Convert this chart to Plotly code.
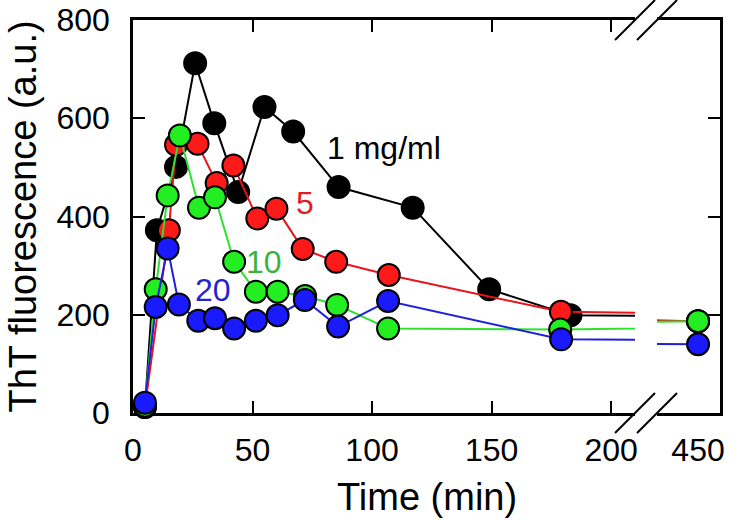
import numpy as np
import plotly.graph_objects as go

# ---- data ----
t_1 = [5, 10, 18, 26, 34, 44, 55, 67, 86, 117, 149, 183, 450]
y_1 = [12, 372, 501, 712, 590, 450, 623, 573, 460, 418, 252, 199, 187]

t_5 = [5, 15, 18, 27, 35, 42, 52, 60, 71, 85, 107, 179, 450]
y_5 = [12, 372, 546, 548, 468, 504, 396, 416, 334, 308, 281, 206, 187]

t_10 = [5, 9.5, 14.5, 19.6, 27.6, 34.3, 42.3, 51.4, 60.5, 72, 85.4, 106.7, 178.7, 450]
y_10 = [15, 252, 443, 565, 418, 439, 308, 247, 247, 238, 220, 172, 170, 187]

t_20 = [5, 9.5, 14.5, 19.2, 27.3, 34.3, 42.3, 51.4, 60.5, 71.9, 85.8, 106.7, 179.1, 450]
y_20 = [21, 216, 335, 221, 188, 193, 172, 188, 199, 230, 176, 228, 150, 140]

series_names = ["1 mg/ml", "5", "10", "20"]
line_colors = ["#000000", "#e8141a", "#2fe02f", "#1f1fe0"]
fill_colors = ["#000000", "#ff1a1a", "#22ee22", "#1a1aff"]
text_colors = ["#000000", "#e31b23", "#3cb43c", "#2424cc"]
label_x = [105, 72, 55, 33.5]
label_y = [539, 427, 308, 250]

x_ticks = [0, 50, 100, 150, 200]
x_ticks_far = [450]
y_ticks = [0, 200, 400, 600, 800]

BREAK = 210  # end of left segment
FONT = "Liberation Sans, Arial, sans-serif"

times = [t_1, t_5, t_10, t_20]
values = [y_1, y_5, y_10, y_20]

fig = go.Figure()
for name, t, y, lc, fc in zip(series_names, times, values, line_colors, fill_colors):
    t = np.asarray(t, dtype=float)
    y = np.asarray(y, dtype=float)
    near = t <= BREAK
    far = ~near
    for xa, ya, mask in (("x", "y", near), ("x2", "y2", far)):
        fig.add_trace(go.Scatter(
            x=t, y=y, mode="lines", xaxis=xa, yaxis=ya,
            line=dict(color=lc, width=2), showlegend=False, hoverinfo="skip"))
        fig.add_trace(go.Scatter(
            x=t[mask], y=y[mask], mode="markers", xaxis=xa, yaxis=ya,
            marker=dict(size=22, color=fc, line=dict(color="#000000", width=2)),
            cliponaxis=False, showlegend=False, name=name))

d1 = 0.8552
d2 = 0.8927

axis_common = dict(showline=True, linecolor="black", linewidth=2.5, showgrid=False,
                   zeroline=False, ticks="inside", ticklen=12, tickwidth=2,
                   tickcolor="black", layer="below traces", automargin=False,
                   tickfont=dict(family=FONT, size=32, color="black"))

fig.update_layout(
    width=750, height=520, autosize=False,
    margin=dict(l=133, r=30, t=20, b=107),
    paper_bgcolor="white", plot_bgcolor="white",
    font=dict(family=FONT, color="black"),
    xaxis=dict(domain=[0, d1], range=[0, BREAK], tickvals=x_ticks, mirror="ticks",
               anchor="y", ticklabelstandoff=7, **axis_common),
    xaxis2=dict(domain=[d2, 1], range=[432.8, 459.2], tickvals=x_ticks_far, mirror=True,
                anchor="y2", ticklabelstandoff=7,
                **{k: v for k, v in axis_common.items() if k != "ticks"}, ticks=""),
    yaxis=dict(domain=[0, 1], range=[0, 800], tickvals=y_ticks, anchor="x",
               ticklabelstandoff=14, **axis_common),
    yaxis2=dict(domain=[0, 1], range=[0, 800], tickvals=y_ticks, anchor="x2",
                side="right", showticklabels=False, **axis_common),
)

# break marks
shapes = []
for xp in (d1, d2):
    for yp in (0, 1):
        shapes.append(dict(type="line", xref="paper", yref="paper",
                           xsizemode="pixel", ysizemode="pixel",
                           xanchor=xp, yanchor=yp, x0=-20, x1=20, y0=-20, y1=20,
                           line=dict(color="black", width=2)))
fig.update_layout(shapes=shapes)

ann = []
for name, lx, ly, tc in zip(series_names, label_x, label_y, text_colors):
    ann.append(dict(x=lx, y=ly, xref="x", yref="y", text=name, showarrow=False,
                    font=dict(family=FONT, size=32, color=tc)))
ann.append(dict(x=0.5, y=0, xref="paper", yref="paper", text="Time (min)",
                showarrow=False, xanchor="center", yanchor="top", yshift=-61,
                font=dict(family=FONT, size=38, color="black")))
ann.append(dict(x=0, y=0.5, xref="paper", yref="paper", text="ThT fluorescence (a.u.)",
                showarrow=False, xanchor="center", yanchor="middle", xshift=-111,
                textangle=-90, font=dict(family=FONT, size=38, color="black")))
fig.update_layout(annotations=ann)

fig.write_html("out.html",
               config={"displayModeBar": False},
               post_script="document.body.style.margin='0';"
                           "document.body.style.overflow='hidden';")
